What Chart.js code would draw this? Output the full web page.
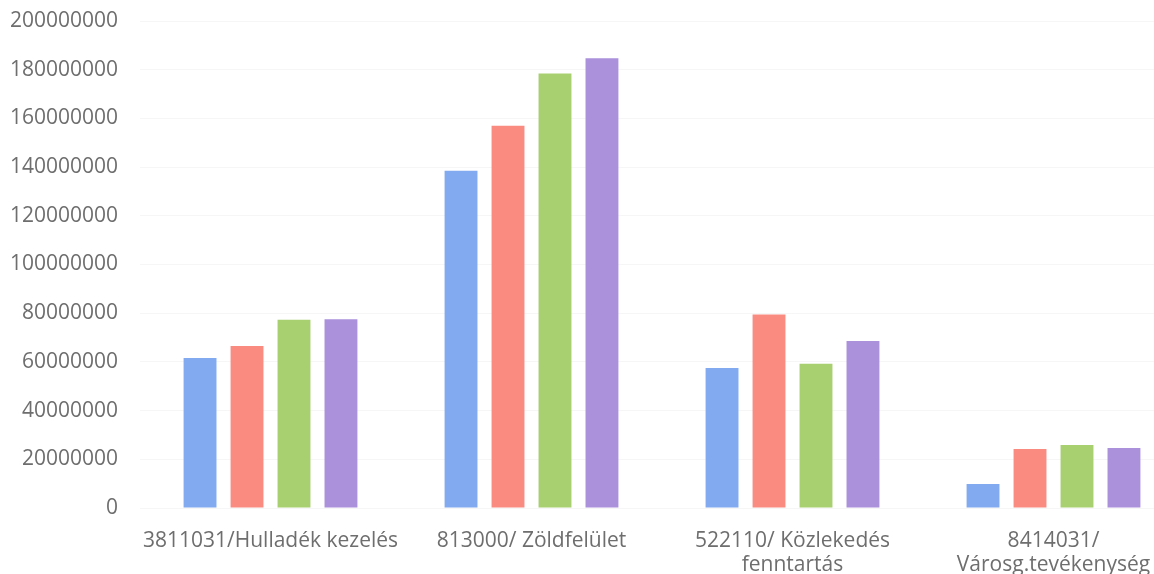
<!DOCTYPE html>
<html>
<head>
<meta charset="utf-8">
<script src="https://cdn.jsdelivr.net/npm/chart.js@4"></script>
<style>
  html, body { margin: 0; padding: 0; background: #fff; overflow: hidden; }
  #wrap { width: 1185px; height: 574px; }
</style>
</head>
<body>
<div id="wrap"><canvas id="chart" width="1185" height="574"></canvas></div>
<script>
const categories = [
  '3811031/Hulladék kezelés',
  '813000/ Zöldfelület',
  ['522110/ Közlekedés', 'fenntartás'],
  ['8414031/', 'Városg.tevékenység']
];
const seriesNames = ['Adatsor1', 'Adatsor2', 'Adatsor3', 'Adatsor4'];
const series1 = [61600000, 138500000, 57500000, 9900000];
const series2 = [66500000, 157000000, 79500000, 24200000];
const series3 = [77300000, 178400000, 59200000, 25900000];
const series4 = [77500000, 184700000, 68600000, 24600000];
const colors = ['#82aaf0', '#f98b80', '#a8cf70', '#ab90dc'];

const ctx = document.getElementById('chart').getContext('2d');
new Chart(ctx, {
  type: 'bar',
  data: {
    labels: categories,
    datasets: [series1, series2, series3, series4].map((d, i) => ({
      label: seriesNames[i],
      data: d,
      backgroundColor: colors[i],
      barPercentage: 0.7,
      categoryPercentage: 0.72
    }))
  },
  options: {
    responsive: false,
    animation: false,
    devicePixelRatio: 1,
    layout: { padding: { top: 21, right: 1, left: 0, bottom: 0 } },
    plugins: {
      legend: { display: false },
      tooltip: { enabled: false }
    },
    scales: {
      y: {
        min: 0,
        max: 200000000,
        ticks: {
          stepSize: 20000000,
          padding: 22,
          color: '#6e6e6e',
          font: { family: 'Open Sans', size: 21 },
          callback: v => String(v)
        },
        grid: { color: '#f6f6f6', drawTicks: false },
        border: { display: false },
        afterFit: s => { s.width = 140; s.paddingTop = 0; s.paddingBottom = 0; }
      },
      x: {
        ticks: {
          padding: 21,
          color: '#6e6e6e',
          maxRotation: 0,
          autoSkip: false,
          font: { family: 'Open Sans', size: 21, lineHeight: 1.15 }
        },
        grid: { display: false, drawTicks: false },
        border: { display: false },
        afterFit: s => { s.height = 66; }
      }
    }
  }
});
</script>
</body>
</html>
